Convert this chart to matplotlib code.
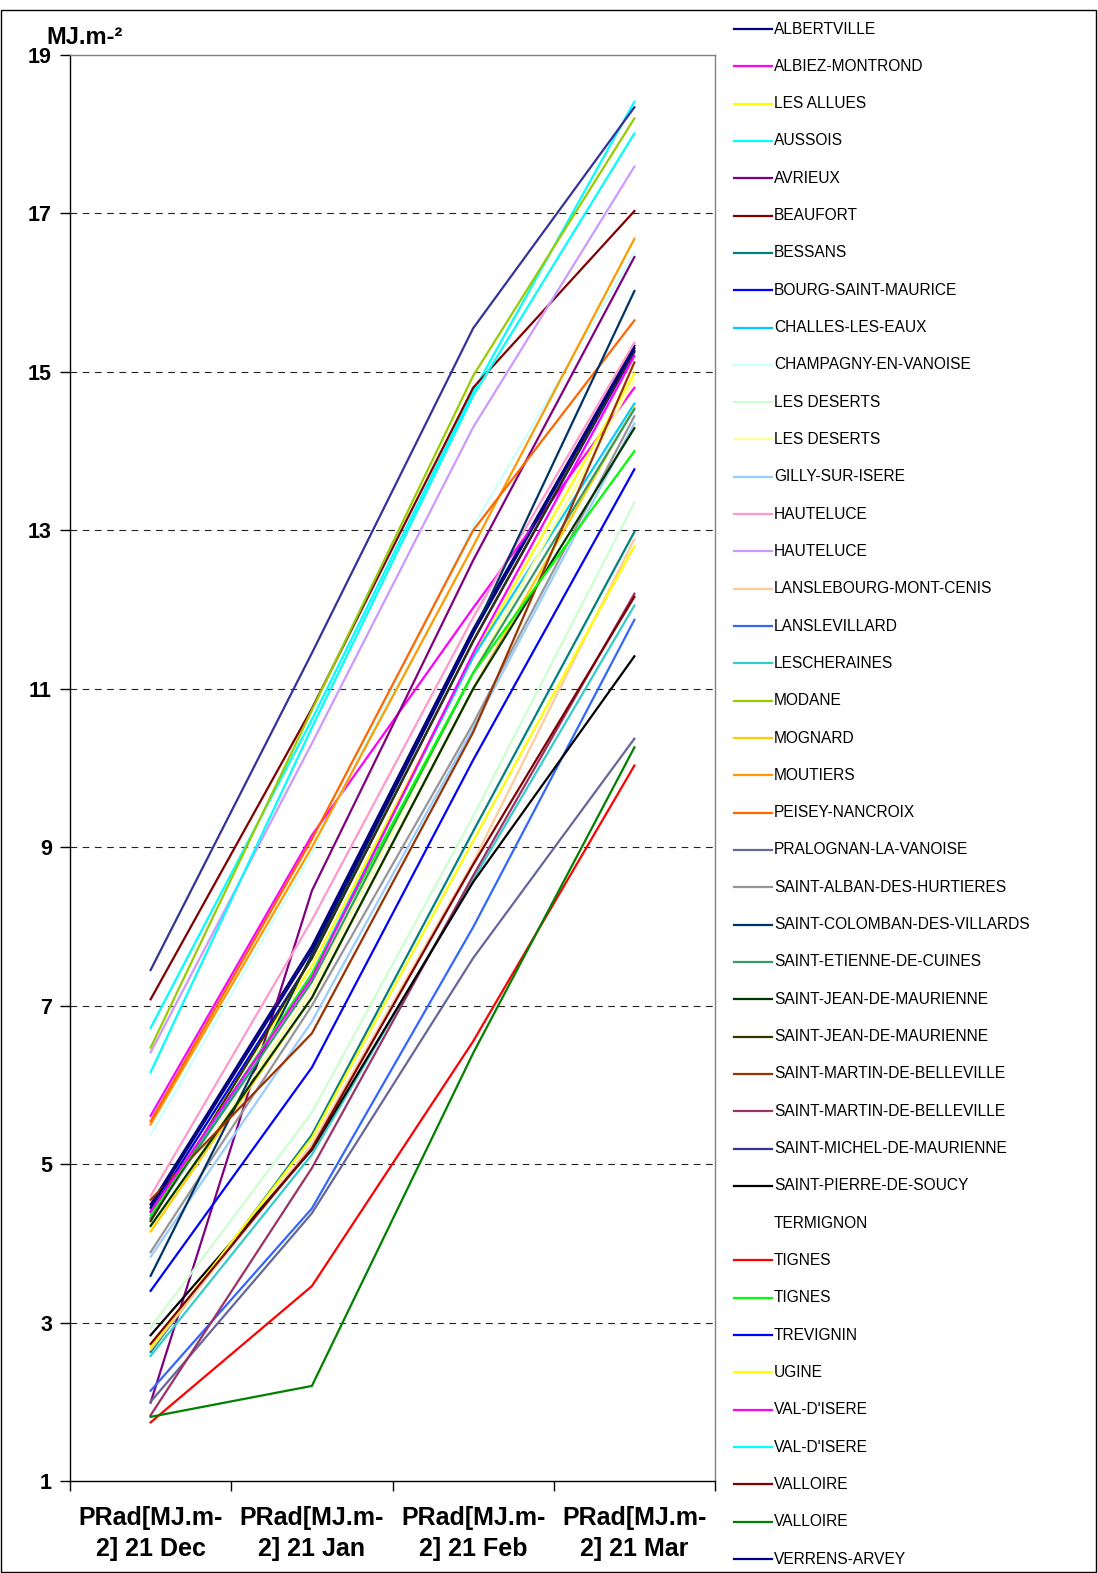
import matplotlib
matplotlib.use("Agg")
import matplotlib.pyplot as plt
from matplotlib.lines import Line2D
from matplotlib.patches import Rectangle
import numpy as np

plt.rcParams['font.family'] = ['Liberation Sans', 'DejaVu Sans']

categories = ["PRad[MJ.m-\n2] 21 Dec", "PRad[MJ.m-\n2] 21 Jan",
              "PRad[MJ.m-\n2] 21 Feb", "PRad[MJ.m-\n2] 21 Mar"]

names = ["ALBERTVILLE", "ALBIEZ-MONTROND", "LES ALLUES", "AUSSOIS", "AVRIEUX",
         "BEAUFORT", "BESSANS", "BOURG-SAINT-MAURICE", "CHALLES-LES-EAUX",
         "CHAMPAGNY-EN-VANOISE", "LES DESERTS", "LES DESERTS", "GILLY-SUR-ISERE",
         "HAUTELUCE", "HAUTELUCE", "LANSLEBOURG-MONT-CENIS", "LANSLEVILLARD",
         "LESCHERAINES", "MODANE", "MOGNARD", "MOUTIERS", "PEISEY-NANCROIX",
         "PRALOGNAN-LA-VANOISE", "SAINT-ALBAN-DES-HURTIERES",
         "SAINT-COLOMBAN-DES-VILLARDS", "SAINT-ETIENNE-DE-CUINES",
         "SAINT-JEAN-DE-MAURIENNE", "SAINT-JEAN-DE-MAURIENNE",
         "SAINT-MARTIN-DE-BELLEVILLE", "SAINT-MARTIN-DE-BELLEVILLE",
         "SAINT-MICHEL-DE-MAURIENNE", "SAINT-PIERRE-DE-SOUCY", "TERMIGNON",
         "TIGNES", "TIGNES", "TREVIGNIN", "UGINE", "VAL-D'ISERE", "VAL-D'ISERE",
         "VALLOIRE", "VALLOIRE", "VERRENS-ARVEY"]

colors = ["#000080", "#FF00FF", "#FFFF00", "#00FFFF", "#800080", "#800000",
          "#008080", "#0000FF", "#00CCFF", "#CCFFFF", "#CCFFCC", "#FFFF99",
          "#99CCFF", "#FF99CC", "#CC99FF", "#FFCC99", "#3366FF", "#33CCCC",
          "#99CC00", "#FFCC00", "#FF9900", "#FF6600", "#666699", "#969696",
          "#003366", "#339966", "#003300", "#333300", "#993300", "#993366",
          "#333399", "#000000", "#FFFFFF", "#FF0000", "#00FF00", "#0000FF",
          "#FFFF00", "#FF00FF", "#00FFFF", "#800000", "#008000", "#000080"]

nan = np.nan
albertville = [4.49, 7.75, 11.75, 15.33]
albiez = [5.61, 9.15, 12.02, 14.80]
les_allues = [4.44, 7.50, 11.40, 14.98]
aussois = [6.72, 10.61, 14.75, 18.41]
avrieux = [1.99, 8.45, 12.62, 16.45]
beaufort = [7.08, 10.75, 14.80, 17.03]
bessans = [2.63, 5.37, 9.20, 12.98]
bourg = [4.40, 7.60, 11.60, 15.25]
challes = [4.30, 7.40, 11.40, 14.60]
champagny = [5.37, 8.93, 13.05, 16.51]
deserts_1 = [2.94, 5.65, 9.39, 13.35]
deserts_2 = [4.20, 7.20, 11.20, 14.90]
gilly = [3.83, 6.80, 10.50, 14.35]
hauteluce_1 = [4.60, 8.08, 11.90, 15.37]
hauteluce_2 = [6.41, 10.31, 14.30, 17.59]
lanslebourg = [2.66, 5.25, 8.81, 12.89]
lanslevillard = [2.14, 4.44, 7.99, 11.87]
lescheraines = [2.58, 5.12, 8.59, 12.05]
modane = [6.47, 10.73, 14.95, 18.20]
mognard = [4.15, 7.10, 11.00, 14.55]
moutiers = [5.50, 9.00, 12.80, 16.68]
peisey = [5.54, 9.10, 13.00, 15.65]
pralognan = [2.00, 4.38, 7.60, 10.37]
st_alban = [3.89, 7.00, 10.56, 14.44]
st_colomban = [3.59, 7.65, 11.70, 16.02]
st_etienne = [4.32, 7.30, 11.20, 14.53]
st_jean_1 = [4.22, 7.10, 11.00, 14.29]
st_jean_2 = [4.28, 7.60, 11.60, 15.27]
st_martin_1 = [4.55, 6.65, 10.45, 15.12]
st_martin_2 = [1.83, 4.95, 8.64, 12.20]
st_michel = [7.45, 11.45, 15.55, 18.34]
st_pierre = [2.84, 5.18, 8.56, 11.41]
termignon = [nan, nan, nan, nan]
tignes_1 = [1.74, 3.46, 6.55, 10.03]
tignes_2 = [4.36, 7.40, 11.20, 14.00]
trevignin = [3.40, 6.22, 10.10, 13.77]
ugine = [2.69, 5.33, 9.08, 12.80]
val_isere_1 = [4.40, 7.35, 11.45, 15.20]
val_isere_2 = [6.16, 10.51, 14.70, 18.01]
valloire_1 = [2.73, 5.20, 8.78, 12.16]
valloire_2 = [1.81, 2.20, 6.40, 10.26]
verrens = [4.45, 7.70, 11.70, 15.30]

series = [albertville, albiez, les_allues, aussois, avrieux, beaufort, bessans,
          bourg, challes, champagny, deserts_1, deserts_2, gilly, hauteluce_1,
          hauteluce_2, lanslebourg, lanslevillard, lescheraines, modane, mognard,
          moutiers, peisey, pralognan, st_alban, st_colomban, st_etienne,
          st_jean_1, st_jean_2, st_martin_1, st_martin_2, st_michel, st_pierre,
          termignon, tignes_1, tignes_2, trevignin, ugine, val_isere_1,
          val_isere_2, valloire_1, valloire_2, verrens]

yticks = [1, 3, 5, 7, 9, 11, 13, 15, 17, 19]

W, H = 1098, 1573
fig = plt.figure(figsize=(W / 100, H / 100), dpi=100)
L, R, T, B = 70, 715, 55, 1481
ax = fig.add_axes([L / W, 1 - B / H, (R - L) / W, (B - T) / H])

x = np.arange(len(categories))
for vals, c in zip(series, colors):
    ax.plot(x, vals, color=c, lw=1.6, solid_joinstyle='miter')

ax.set_xlim(-0.5, len(categories) - 0.5)
ax.set_ylim(1, 19)
ax.set_yticks(yticks)
ax.set_yticklabels([str(v) for v in yticks], fontsize=15.5, fontweight='bold')
ax.set_xticks(np.arange(-0.5, len(categories), 1.0))
ax.set_xticklabels([])
ax.set_xticks(x, minor=True)
ax.set_xticklabels(categories, minor=True, fontsize=18, fontweight='bold',
                   linespacing=1.38)
ax.tick_params(axis='x', which='minor', length=0, pad=18)
ax.tick_params(axis='x', which='major', length=7, width=1, direction='out')
ax.tick_params(axis='y', length=7, width=1, direction='out', pad=6)
for yv in yticks[1:-1]:
    ax.axhline(yv, color='#222222', lw=0.8, ls=(0, (6, 5)), zorder=0)
for s in ['top', 'right']:
    ax.spines[s].set_color('#808080')
    ax.spines[s].set_linewidth(1)
for s in ['left', 'bottom']:
    ax.spines[s].set_color('black')
    ax.spines[s].set_linewidth(1)

fig.text(46 / W, 1 - 37 / H, "MJ.m-²", fontsize=17, fontweight='bold',
         ha='left', va='center')

# legend
y0, y1 = 29, 1559
dy = (y1 - y0) / (len(names) - 1)
for i, (n, c) in enumerate(zip(names, colors)):
    yy = 1 - (y0 + i * dy) / H
    fig.add_artist(Line2D([734 / W, 772 / W], [yy, yy], color=c, lw=1.6))
    fig.text(774 / W, yy, n, fontsize=11.2, ha='left', va='center')

fig.add_artist(Rectangle((1 / W, 1 / H), (W - 3) / W, 1 - 11 / H,
                         fill=False, edgecolor='black', lw=1,
                         transform=fig.transFigure))

fig.savefig("out.png", dpi=100)
